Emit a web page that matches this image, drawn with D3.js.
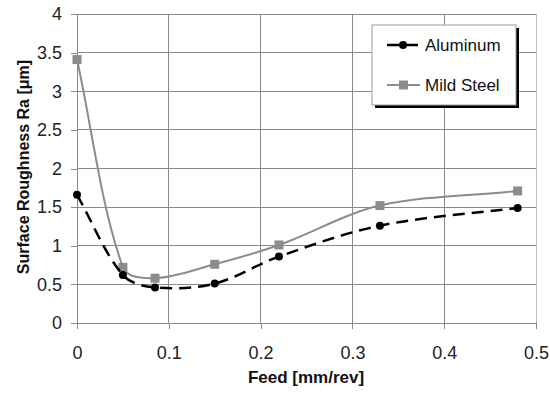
<!DOCTYPE html>
<html>
<head>
<meta charset="utf-8">
<script src="https://cdn.jsdelivr.net/npm/d3@7"></script>
<style>
  body { margin: 0; background: #fff; }
  text { font-family: "Liberation Sans", Arial, sans-serif; }
</style>
</head>
<body>
<div id="chart"></div>
<script>
// Données
const feed = [0, 0.05, 0.085, 0.15, 0.22, 0.33, 0.48];
const aluminum = [1.66, 0.62, 0.46, 0.51, 0.86, 1.26, 1.49];
const mildSteel = [3.41, 0.72, 0.58, 0.76, 1.01, 1.52, 1.71];
const xTicks = [0, 0.1, 0.2, 0.3, 0.4, 0.5];
const yTicks = [0, 0.5, 1, 1.5, 2, 2.5, 3, 3.5, 4];

const W = 550, H = 395;
const margin = { top: 14, right: 14, bottom: 72, left: 77 },
      width = W - margin.left - margin.right,
      height = H - margin.top - margin.bottom;

const svg = d3.select("#chart").append("svg")
    .attr("width", W)
    .attr("height", H);

const g = svg.append("g")
    .attr("transform", `translate(${margin.left},${margin.top})`);

const x = d3.scaleLinear().domain([0, 0.5]).range([0, width]);
const y = d3.scaleLinear().domain([0, 4]).range([height, 0]);

// Courbe lissée façon tableur : tangentes pondérées par la longueur des segments
function curveSmooth(context) {
    let p;
    const dist = (a, b) => Math.hypot(b[0] - a[0], b[1] - a[1]);
    return {
        areaStart() {}, areaEnd() {},
        lineStart() { p = []; },
        point(px, py) { p.push([+px, +py]); },
        lineEnd() {
            const n = p.length;
            if (!n) return;
            context.moveTo(p[0][0], p[0][1]);
            for (let i = 0; i < n - 1; i++) {
                const p0 = p[Math.max(i - 1, 0)], p1 = p[i], p2 = p[i + 1], p3 = p[Math.min(i + 2, n - 1)];
                const d = dist(p1, p2);
                const s1 = dist(p0, p1) + d, s2 = d + dist(p2, p3);
                const c1 = [p1[0] + (p2[0] - p0[0]) * d / s1 / 3, p1[1] + (p2[1] - p0[1]) * d / s1 / 3];
                const c2 = [p2[0] - (p3[0] - p1[0]) * d / s2 / 3, p2[1] - (p3[1] - p1[1]) * d / s2 / 3];
                context.bezierCurveTo(c1[0], c1[1], c2[0], c2[1], p2[0], p2[1]);
            }
        }
    };
}

// Grille
g.append("g")
    .selectAll("line")
    .data(yTicks.slice(1))
    .join("line")
    .attr("x1", 0).attr("x2", width)
    .attr("y1", d => y(d)).attr("y2", d => y(d))
    .attr("stroke", "#8a8a8a").attr("stroke-width", 1)
    .attr("shape-rendering", "crispEdges");

g.append("g")
    .selectAll("line")
    .data(xTicks.slice(1))
    .join("line")
    .attr("x1", d => x(d)).attr("x2", d => x(d))
    .attr("y1", 0).attr("y2", height)
    .attr("stroke", d => d === 0.5 ? "#bbbbbb" : "#8a8a8a").attr("stroke-width", 1)
    .attr("shape-rendering", "crispEdges");

// Axes
const xAxis = g.append("g")
    .attr("transform", `translate(0,${height})`)
    .call(d3.axisBottom(x).tickValues(xTicks).tickSize(6).tickPadding(17).tickFormat(d3.format("")));
const yAxis = g.append("g")
    .call(d3.axisLeft(y).tickValues(yTicks).tickSize(6).tickPadding(9).tickFormat(d3.format("")));

[xAxis, yAxis].forEach(a => {
    a.select(".domain").attr("stroke", "#8a8a8a").attr("shape-rendering", "crispEdges");
    a.selectAll(".tick line").attr("stroke", "#8a8a8a").attr("shape-rendering", "crispEdges");
    a.selectAll(".tick text")
        .attr("fill", "#222")
        .style("font-size", "18px")
        .style("font-family", "Liberation Sans, Arial, sans-serif");
});

// Courbes
const pts = (vals) => feed.map((f, i) => ({ f: f, v: vals[i] }));

const line = d3.line()
    .x(d => x(d.f))
    .y(d => y(d.v))
    .curve(curveSmooth);

g.append("path")
    .datum(pts(mildSteel))
    .attr("fill", "none")
    .attr("stroke", "#8c8c8c")
    .attr("stroke-width", 2)
    .attr("d", line);

g.append("g")
    .selectAll("rect")
    .data(pts(mildSteel))
    .join("rect")
    .attr("x", d => x(d.f) - 4.5)
    .attr("y", d => y(d.v) - 4.5)
    .attr("width", 9).attr("height", 9)
    .attr("fill", "#8c8c8c");

g.append("path")
    .datum(pts(aluminum))
    .attr("fill", "none")
    .attr("stroke", "#000")
    .attr("stroke-width", 2.5)
    .attr("stroke-dasharray", "12,7")
    .attr("d", line);

g.append("g")
    .selectAll("circle")
    .data(pts(aluminum))
    .join("circle")
    .attr("cx", d => x(d.f))
    .attr("cy", d => y(d.v))
    .attr("r", 4)
    .attr("fill", "#000");

// Titres des axes
svg.append("text")
    .attr("x", 306)
    .attr("y", 383)
    .attr("text-anchor", "middle")
    .style("font-size", "17px")
    .style("font-weight", "bold")
    .attr("fill", "#111")
    .text("Feed [mm/rev]");

svg.append("text")
    .attr("transform", "translate(29,167) rotate(-90)")
    .attr("text-anchor", "middle")
    .style("font-size", "16px")
    .style("font-weight", "bold")
    .attr("fill", "#111")
    .text("Surface Roughness Ra [μm]");

// Légende
const lg = svg.append("g").attr("transform", "translate(372,25)");
lg.append("rect")
    .attr("x", 3).attr("y", 3)
    .attr("width", 144).attr("height", 80)
    .attr("fill", "#000");
lg.append("rect")
    .attr("x", 0).attr("y", 0)
    .attr("width", 144).attr("height", 80)
    .attr("fill", "#fff")
    .attr("stroke", "#999");

lg.append("line")
    .attr("x1", 15).attr("x2", 48).attr("y1", 20).attr("y2", 20)
    .attr("stroke", "#000").attr("stroke-width", 2.5)
    .attr("stroke-dasharray", "12,7");
lg.append("circle").attr("cx", 31).attr("cy", 20).attr("r", 4).attr("fill", "#000");
lg.append("text").attr("x", 53).attr("y", 26)
    .style("font-size", "17px").attr("fill", "#111").text("Aluminum");

lg.append("line")
    .attr("x1", 15).attr("x2", 48).attr("y1", 60).attr("y2", 60)
    .attr("stroke", "#8c8c8c").attr("stroke-width", 2);
lg.append("rect").attr("x", 27).attr("y", 55.5).attr("width", 9).attr("height", 9).attr("fill", "#8c8c8c");
lg.append("text").attr("x", 53).attr("y", 66)
    .style("font-size", "17px").attr("fill", "#111").text("Mild Steel");
</script>
</body>
</html>
